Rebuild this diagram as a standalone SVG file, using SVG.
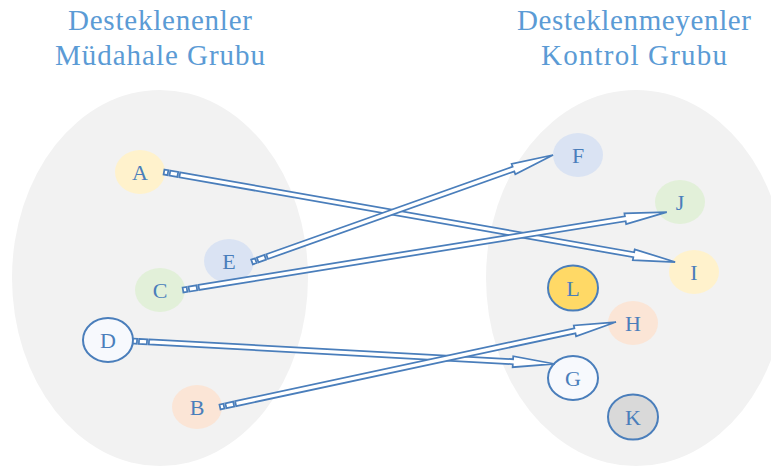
<svg xmlns="http://www.w3.org/2000/svg" width="771" height="466" viewBox="0 0 771 466">
<style>
.grp{fill:#f2f2f2;stroke:none}
.title{font-family:"Liberation Serif","Times New Roman",serif;font-size:29px;fill:#5b9bd5;text-anchor:middle}
.lbl{font-family:"Liberation Serif","Times New Roman",serif;font-size:22px;fill:#4a7ebb;text-anchor:middle}
.arr{fill:#ffffff;stroke:#4a7ebb;stroke-width:1.75;stroke-linejoin:miter}
.yel{fill:#fff2cc}.blu{fill:#dae3f3}.grn{fill:#e2f0d9}.org{fill:#fbe5d6}
.wht{fill:#f7f9fd;stroke:#4a7ebb;stroke-width:2}
.gld{fill:#ffd966;stroke:#4a7ebb;stroke-width:2}
.gry{fill:#d9d9d9;stroke:#4a7ebb;stroke-width:2}
</style>
<rect width="771" height="466" fill="#ffffff"/>
<g id="group-left">
<ellipse class="grp" cx="160" cy="278" rx="148" ry="188"/>
<text class="title" x="160" y="30" textLength="184" lengthAdjust="spacing">Desteklenenler</text>
<text class="title" x="160" y="65" textLength="210" lengthAdjust="spacing">Müdahale Grubu</text>
</g>
<g id="group-right">
<ellipse class="grp" cx="636" cy="278" rx="150" ry="188"/>
<text class="title" x="634" y="30" textLength="234" lengthAdjust="spacing">Desteklenmeyenler</text>
<text class="title" x="634" y="65" textLength="186" lengthAdjust="spacing">Kontrol Grubu</text>
</g>
<g id="node-A"><ellipse class="yel" cx="140" cy="172" rx="25" ry="22"/><text class="lbl" x="140" y="179.5">A</text></g>
<g id="node-E"><ellipse class="blu" cx="229" cy="261" rx="25" ry="22"/><text class="lbl" x="229" y="268.5">E</text></g>
<g id="node-C"><ellipse class="grn" cx="160" cy="290" rx="25" ry="22"/><text class="lbl" x="160" y="297.5">C</text></g>
<g id="node-D"><ellipse class="wht" cx="108" cy="340" rx="25" ry="22"/><text class="lbl" x="108" y="347.5">D</text></g>
<g id="node-B"><ellipse class="org" cx="197" cy="407" rx="25" ry="22"/><text class="lbl" x="197" y="414.5">B</text></g>
<g id="node-F"><ellipse class="blu" cx="578" cy="155" rx="25" ry="22"/><text class="lbl" x="578" y="162.5">F</text></g>
<g id="node-J"><ellipse class="grn" cx="680" cy="202" rx="25" ry="22"/><text class="lbl" x="680" y="209.5">J</text></g>
<g id="node-I"><ellipse class="yel" cx="694" cy="272" rx="25" ry="22"/><text class="lbl" x="694" y="279.5">I</text></g>
<g id="node-L"><ellipse class="gld" cx="573" cy="288" rx="25" ry="22.5"/><text class="lbl" x="573" y="295.5">L</text></g>
<g id="node-H"><ellipse class="org" cx="633" cy="323" rx="25" ry="22"/><text class="lbl" x="633" y="330.5">H</text></g>
<g id="node-G"><ellipse class="wht" cx="573" cy="378" rx="25" ry="22"/><text class="lbl" x="573" y="385.5">G</text></g>
<g id="node-K"><ellipse class="gry" cx="633" cy="417" rx="25" ry="22.5"/><text class="lbl" x="633" y="424.5">K</text></g>
<g id="connectors">
<g transform="translate(164,172) rotate(9.99)"><path class="arr" d="M0,-2.5H4V2.5H0Z M6,-2.5H14V2.5H6Z M16,-2.5H477V-5.5L519,0L477,5.5V2.5H16Z"/></g>
<g transform="translate(252,262) rotate(-19.57)"><path class="arr" d="M0,-2.5H4V2.5H0Z M6,-2.5H14V2.5H6Z M16,-2.5H277.5V-5.5L319.5,0L277.5,5.5V2.5H16Z"/></g>
<g transform="translate(183,290) rotate(-9.155)"><path class="arr" d="M0,-2.5H4V2.5H0Z M6,-2.5H14V2.5H6Z M16,-2.5H448V-5.5L490,0L448,5.5V2.5H16Z"/></g>
<g transform="translate(133,341) rotate(3.12)"><path class="arr" d="M0,-2.5H4V2.5H0Z M6,-2.5H14V2.5H6Z M16,-2.5H380.5V-5.5L422.5,0L380.5,5.5V2.5H16Z"/></g>
<g transform="translate(220,407) rotate(-12.11)"><path class="arr" d="M0,-2.5H4V2.5H0Z M6,-2.5H14V2.5H6Z M16,-2.5H363V-5.5L405,0L363,5.5V2.5H16Z"/></g>
</g>
</svg>
